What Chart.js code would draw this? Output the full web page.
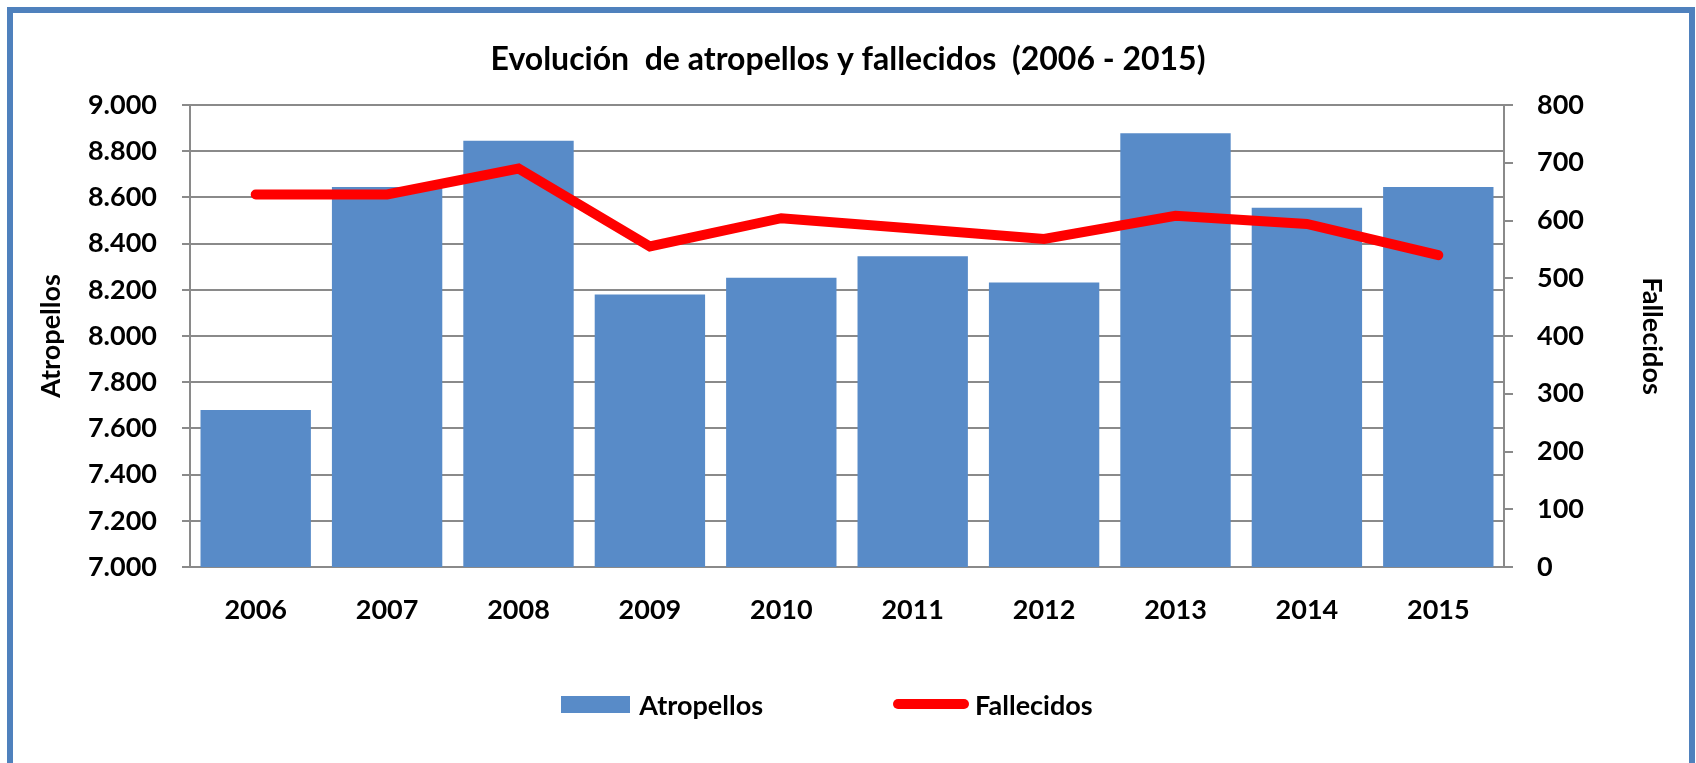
<!DOCTYPE html>
<html>
<head>
<meta charset="utf-8">
<script src="https://cdn.jsdelivr.net/npm/chart.js@4.4.1/dist/chart.umd.min.js"></script>
<style>
  html, body { margin: 0; padding: 0; background: #fff; overflow: hidden; }
  #wrap { position: relative; width: 1696px; height: 763px; }
  #chart { position: absolute; left: 0; top: 0; }
  #frame { position: absolute; left: 7px; top: 7px; width: 1688px; height: 800px;
           box-sizing: border-box; border: 6px solid #4f81bd; pointer-events: none; }
  #legend { position: absolute; left: 0; top: 686px; width: 1654px; height: 36px;
            display: flex; justify-content: center; align-items: center; gap: 130px;
            font: bold 27px Lato, sans-serif; color: #000; }
  .item { display: flex; align-items: center; }
  .box { width: 69px; height: 17px; margin-right: 9px; }
  .line { width: 76px; height: 10px; border-radius: 5px; margin-right: 6px; }
</style>
</head>
<body>
<div id="wrap">
  <canvas id="chart" width="1696" height="763"></canvas>
  <div id="legend"></div>
  <div id="frame"></div>
</div>
<script>
const years = ['2006', '2007', '2008', '2009', '2010', '2011', '2012', '2013', '2014', '2015'];
const atropellos = [7680, 8645, 8845, 8180, 8252, 8345, 8232, 8878, 8555, 8645];
const fallecidos = [645, 645, 690, 555, 604, 586, 568, 608, 594, 540];

const leftTicks = { min: 7000, max: 9000, step: 200 };
const rightTicks = { min: 0, max: 800, step: 100 };

const barColor = '#588bc8';
const lineColor = '#ff0000';
const gridColor = '#8a8a8a';

function miles(v) {
    // 9000 -> "9.000"
    return String(v).replace(/\B(?=(\d{3})+(?!\d))/g, '.');
}

Chart.defaults.font.family = 'Lato, sans-serif';
Chart.defaults.font.weight = 'bold';
Chart.defaults.font.size = 27;
Chart.defaults.color = '#000';

const chart = new Chart(document.getElementById('chart'), {
    type: 'bar',
    data: {
        labels: years,
        datasets: [
            {
                type: 'line',
                label: 'Fallecidos',
                data: fallecidos,
                yAxisID: 'y1',
                borderColor: lineColor,
                backgroundColor: lineColor,
                borderWidth: 10,
                borderCapStyle: 'round',
                borderJoinStyle: 'miter',
                pointRadius: 0,
                tension: 0,
                order: 0
            },
            {
                type: 'bar',
                label: 'Atropellos',
                data: atropellos,
                yAxisID: 'y',
                backgroundColor: barColor,
                borderWidth: 0,
                categoryPercentage: 0.84,
                barPercentage: 1,
                order: 1
            }
        ]
    },
    options: {
        responsive: false,
        animation: false,
        layout: { padding: { top: 12, left: 15, right: 15, bottom: 96 } },
        plugins: {
            legend: { display: false },
            tooltip: { enabled: false },
            title: {
                display: true,
                text: 'Evolución  de atropellos y fallecidos  (2006 - 2015)',
                font: { size: 32, weight: 'bold' },
                padding: { top: 28.8, bottom: 25.8 }
            }
        },
        scales: {
            x: {
                grid: { display: false },
                border: { display: true, color: gridColor, width: 2 },
                ticks: { padding: 19 },
                afterFit: function (scale) { scale.height = 100; }
            },
            y: {
                position: 'left',
                min: leftTicks.min,
                max: leftTicks.max,
                ticks: { stepSize: leftTicks.step, padding: 25, callback: v => miles(v) },
                grid: { color: gridColor, lineWidth: 2, tickLength: 8 },
                border: { color: gridColor, width: 2 },
                title: { display: true, text: 'Atropellos', padding: { top: 19.8 } },
                afterFit: function (scale) { scale.width = 190 - 15; }
            },
            y1: {
                position: 'right',
                min: rightTicks.min,
                max: rightTicks.max,
                ticks: { stepSize: rightTicks.step, padding: 24 },
                grid: { drawOnChartArea: false, color: gridColor, lineWidth: 2, tickLength: 9 },
                border: { color: gridColor, width: 2 },
                title: { display: true, text: 'Fallecidos', padding: { top: 12.8 } },
                afterFit: function (scale) { scale.width = 1696 - 15 - 1504; }
            }
        }
    }
});

// legend in html, taken from the datasets (bars first, like the original)
const legend = document.getElementById('legend');
chart.data.datasets.slice().reverse().forEach(function (ds) {
    const item = document.createElement('div');
    item.className = 'item';
    const sw = document.createElement('span');
    sw.className = ds.type === 'line' ? 'line' : 'box';
    sw.style.background = ds.type === 'line' ? ds.borderColor : ds.backgroundColor;
    item.appendChild(sw);
    item.appendChild(document.createTextNode(ds.label));
    legend.appendChild(item);
});
</script>
</body>
</html>
